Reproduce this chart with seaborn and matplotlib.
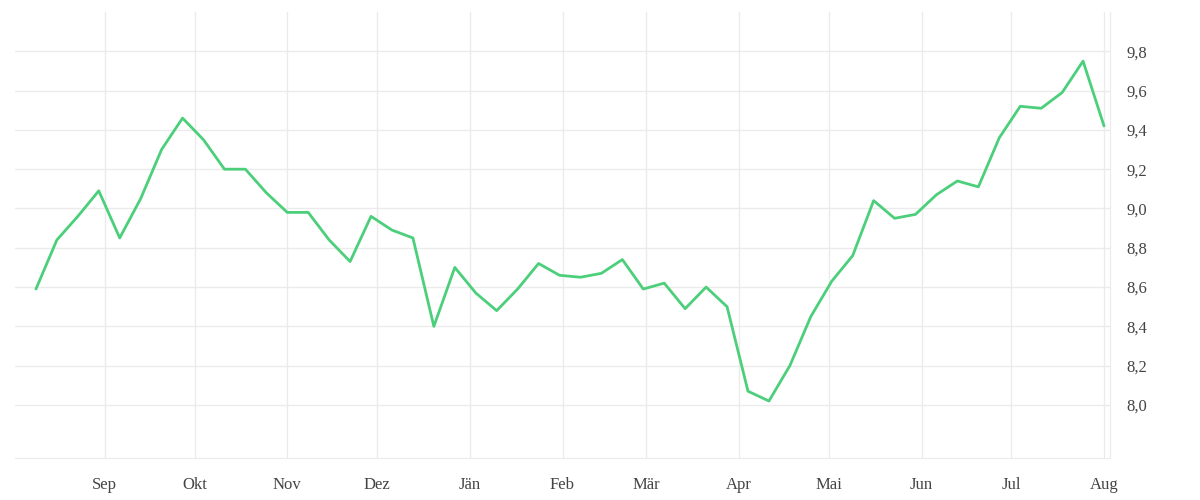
import pandas as pd
import numpy as np
import matplotlib
matplotlib.use("Agg")
import matplotlib.pyplot as plt
import matplotlib.dates as mdates
from matplotlib.ticker import FuncFormatter, FixedLocator
import seaborn as sns

# weekly values, Aug 2021 - Aug 2022
start_date = "2021-08-09"
values = [8.59, 8.84, 8.96, 9.09, 8.85, 9.05, 9.30, 9.46, 9.35, 9.20,
          9.20, 9.08, 8.98, 8.98, 8.84, 8.73, 8.96, 8.89, 8.85, 8.40,
          8.70, 8.57, 8.48, 8.59, 8.72, 8.66, 8.65, 8.67, 8.74, 8.59,
          8.62, 8.49, 8.60, 8.50, 8.07, 8.02, 8.20, 8.45, 8.63, 8.76,
          9.04, 8.95, 8.97, 9.07, 9.14, 9.11, 9.36, 9.52, 9.51, 9.59,
          9.75, 9.42]
month_names = ["Jän", "Feb", "Mär", "Apr", "Mai", "Jun",
               "Jul", "Aug", "Sep", "Okt", "Nov", "Dez"]
y_ticks = [8.0, 8.2, 8.4, 8.6, 8.8, 9.0, 9.2, 9.4, 9.6, 9.8]

df = pd.DataFrame({
    "date": pd.date_range(start_date, periods=len(values), freq="7D"),
    "value": values,
})

sns.set_style("white")
plt.rcParams["font.family"] = ["Liberation Serif", "DejaVu Serif"]

fig = plt.figure(figsize=(12, 5), dpi=100)
ax = fig.add_axes([0.0125, 0.084, 0.9125, 0.892])

sns.lineplot(data=df, x="date", y="value", color="#4ccf7b", linewidth=2.0, ax=ax)

ax.set_xlim(pd.Timestamp("2021-08-02"), pd.Timestamp("2022-08-03"))
ax.set_ylim(7.73, 10.0)

ax.xaxis.set_major_locator(mdates.MonthLocator())
ax.xaxis.set_major_formatter(FuncFormatter(
    lambda x, pos: month_names[mdates.num2date(x).month - 1]))
ax.yaxis.set_major_locator(FixedLocator(y_ticks))
ax.yaxis.set_major_formatter(FuncFormatter(
    lambda y, pos: f"{y:.1f}".replace(".", ",")))
ax.yaxis.tick_right()

ax.grid(True, color="#ebebeb", linewidth=1)
ax.set_axisbelow(True)
for side in ["top", "left"]:
    ax.spines[side].set_visible(False)
ax.spines["bottom"].set_color("#ebebeb")
ax.spines["right"].set_color("#ebebeb")

ax.tick_params(axis="x", length=4, color="#ebebeb", labelsize=12, labelcolor="#444444", pad=10)
ax.tick_params(axis="y", length=0, labelsize=12, labelcolor="#444444", pad=12)

ax.set_xlabel("")
ax.set_ylabel("")

fig.savefig("out.png", dpi=100)
